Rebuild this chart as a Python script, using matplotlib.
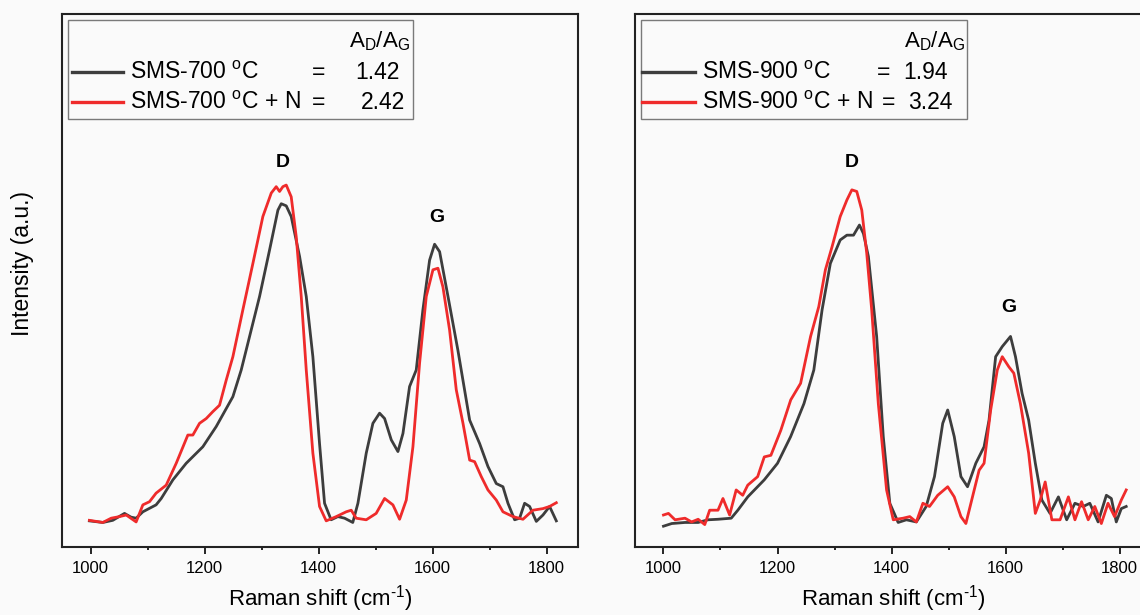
import matplotlib
matplotlib.use('Agg')
import matplotlib.pyplot as plt
from matplotlib.patches import Rectangle
from matplotlib.ticker import MultipleLocator

plt.rcParams['font.family'] = ['Liberation Sans', 'DejaVu Sans']
plt.rcParams['mathtext.default'] = 'regular'

# ---------------- data ----------------
# SMS-700 panel
wn_700 = [998, 1021.6, 1039, 1059.6, 1071, 1080, 1091.8, 1115, 1124, 1144.5, 1167.8, 1197, 1220.5, 1249.7,
          1264.3, 1279, 1296.5, 1314, 1328.7, 1334.5, 1343.3, 1352, 1366.7, 1378.4, 1390, 1401.7, 1410.5,
          1422, 1433.9, 1445.6, 1460, 1469, 1483.6, 1495.3, 1507, 1515.8, 1527.5, 1539.2, 1548, 1559.6,
          1571.3, 1583, 1594.7, 1603.5, 1612.3, 1627, 1644.4, 1665, 1682.5, 1697.1, 1711.7, 1723.4, 1732.2,
          1743.9, 1752.6, 1761.4, 1770.2, 1781.9, 1793.6, 1805.2, 1817]
int_700 = [4.9, 4.6, 5.0, 6.3, 5.6, 5.4, 6.6, 7.9, 9.1, 12.6, 15.7, 18.8, 22.6, 28.2,
           33.2, 39.5, 47.0, 55.7, 63.2, 64.4, 64.0, 62.0, 54.5, 47.0, 35.7, 19.4, 8.2,
           5.1, 5.7, 5.4, 4.6, 8.2, 17.6, 23.2, 25.1, 24.1, 20.1, 17.9, 21.3, 30.1,
           33.2, 44.5, 53.8, 56.8, 55.4, 47.0, 36.9, 23.8, 19.4, 15.1, 11.9, 11.3, 8.2,
           5.1, 5.4, 8.2, 7.6, 4.8, 6.0, 7.6, 4.9]

wn_700N = [998, 1021.6, 1036.2, 1050.9, 1062.6, 1080, 1091.8, 1103.5, 1115, 1132.7, 1150.3, 1170.7, 1179.5,
           1191.2, 1203, 1214.6, 1226.3, 1238, 1249.7, 1267.2, 1284.8, 1302.3, 1317, 1325.7, 1331.6, 1337.4,
           1343.3, 1352, 1360.8, 1369.6, 1378.4, 1390, 1401.7, 1413.4, 1431, 1448.5, 1457.3, 1466, 1483.6,
           1501, 1515.8, 1530.4, 1542.1, 1553.8, 1565.5, 1577.2, 1588.9, 1600.6, 1609.4, 1618.1, 1629.8,
           1641.5, 1653.3, 1665, 1673.7, 1685.4, 1697.1, 1711.7, 1723.4, 1741, 1758.5, 1776, 1793.6, 1805.2, 1817]
int_700N = [5.0, 4.6, 5.4, 5.7, 6.0, 4.7, 7.9, 8.5, 10.1, 11.6, 15.7, 21.0, 21.0,
            23.2, 24.1, 25.4, 26.6, 31.3, 35.7, 44.5, 53.2, 62.0, 66.4, 67.6, 66.7, 67.6,
            67.9, 65.7, 58.2, 47.0, 33.2, 17.6, 7.6, 4.9, 5.7, 6.6, 6.9, 5.4, 5.1,
            6.3, 9.1, 7.9, 5.2, 8.8, 18.8, 34.5, 47.0, 52.0, 52.3, 48.8, 40.7,
            29.5, 23.2, 16.3, 16.0, 13.2, 10.7, 8.8, 6.6, 5.7, 5.2, 6.9, 7.2, 7.6, 8.3]

# SMS-900 panel
wn_900 = [1000, 1014.5, 1037.7, 1060.8, 1078, 1095.6, 1118.8, 1130.4, 1147.8, 1176.8, 1200, 1223, 1246.4,
          1263.7, 1278.2, 1292.7, 1310, 1321.7, 1333.3, 1343.7, 1350.7, 1359.4, 1373.9, 1385.5, 1397, 1411.6,
          1426, 1443.5, 1460.8, 1475.3, 1489.8, 1498.5, 1510, 1521.7, 1533.3, 1547.8, 1562.3, 1571, 1582.6,
          1594.2, 1608.7, 1617.4, 1629, 1640.5, 1652.2, 1663.7, 1678, 1692.7, 1707.2, 1721.7, 1736.2, 1747.8,
          1762.3, 1776.8, 1785.5, 1794.2, 1803, 1811.6]
int_900 = [3.9, 4.4, 4.6, 4.6, 5.1, 5.2, 5.4, 6.9, 9.4, 12.6, 15.7, 20.7, 26.9,
           33.2, 44.5, 53.2, 57.6, 58.5, 58.5, 60.4, 58.8, 54.5, 39.5, 20.7, 8.2, 4.6,
           5.1, 4.7, 7.6, 13.2, 23.2, 25.7, 20.7, 13.2, 11.3, 15.7, 18.8, 23.8, 35.7,
           37.6, 39.5, 35.7, 28.8, 23.8, 15.7, 8.8, 6.3, 9.4, 5.1, 8.2, 7.6, 8.2,
           4.7, 9.7, 9.1, 4.7, 7.2, 7.6]

wn_900N = [1000, 1008.7, 1020.3, 1037.7, 1049.3, 1060.8, 1072.4, 1081, 1095.6, 1104.3, 1116, 1127.5, 1139,
           1147.8, 1165.2, 1176.8, 1188.4, 1205.8, 1223.2, 1240.5, 1258, 1272.4, 1284, 1295.6, 1310, 1321.7,
           1330.4, 1339, 1347.8, 1356.5, 1365.2, 1376.8, 1391.3, 1403, 1420.3, 1432, 1443.5, 1455, 1466.6,
           1481, 1498.5, 1510, 1521.7, 1530.4, 1542, 1553.6, 1562.3, 1573.9, 1585.5, 1594.2, 1605.8, 1614.5,
           1626, 1640.5, 1652.2, 1660.8, 1669.5, 1681.2, 1695.6, 1710.2, 1721.7, 1733.3, 1745, 1756.5, 1768,
           1779.7, 1791.2, 1803, 1811.6]
int_900N = [6.0, 6.3, 5.1, 5.4, 4.7, 5.2, 4.2, 6.9, 6.9, 9.1, 6.0, 10.7, 9.7,
            11.6, 13.2, 16.9, 17.2, 21.9, 27.6, 30.7, 39.5, 45.1, 52.0, 56.3, 62.0, 65.1,
            67.0, 66.7, 63.2, 55.1, 44.5, 26.9, 10.7, 5.1, 5.4, 5.7, 4.7, 8.2, 7.6,
            9.7, 11.3, 9.4, 5.7, 4.4, 9.4, 14.4, 15.7, 25.7, 33.2, 35.7, 33.8, 32.6,
            26.9, 17.6, 6.3, 8.8, 12.2, 5.1, 5.1, 9.4, 5.1, 8.5, 5.1, 7.6, 4.4,
            8.2, 5.7, 8.8, 10.7]

names_700 = ['SMS-700 $^{o}$C', 'SMS-700 $^{o}$C + N']
ratios_700 = ['1.42', '2.42']
names_900 = ['SMS-900 $^{o}$C', 'SMS-900 $^{o}$C + N']
ratios_900 = ['1.94', '3.24']

peak_D_700 = (1337, 72.2)
peak_G_700 = (1607, 61.9)
peak_D_900 = (1330, 72.2)
peak_G_900 = (1605, 45.0)

c_black = '#3d3d3d'
c_red = '#ef2b2b'
bg = '#fafafa'

fig = plt.figure(figsize=(11.4, 6.15), dpi=100, facecolor=bg)
ax1 = fig.add_axes([0.0544, 0.1106, 0.4526, 0.8667], facecolor=bg)
ax2 = fig.add_axes([0.557, 0.1106, 0.4526, 0.8667], facecolor=bg)


def panel(ax, x1, y1, x2, y2, names, ratios, dpk, gpk, box_w, line_x, txt_x, eq_x, val_x, val_ha):
    ax.plot(x1, y1, color=c_black, lw=2.0)
    ax.plot(x2, y2, color=c_red, lw=2.0)
    ax.set_xlim(950, 1855)
    ax.set_ylim(0, 100)
    ax.set_yticks([])
    ax.xaxis.set_major_locator(MultipleLocator(200))
    ax.xaxis.set_minor_locator(MultipleLocator(100))
    ax.tick_params(axis='x', which='major', direction='out', length=5, width=1.2, labelsize=12, pad=5)
    ax.tick_params(axis='x', which='minor', direction='out', length=2.5, width=1.2)
    for s in ax.spines.values():
        s.set_linewidth(1.5)
        s.set_color('#222222')
    ax.set_xlabel('Raman shift (cm$^{\u2010 1}$)', fontsize=16, labelpad=5.5)
    ax.text(dpk[0], dpk[1], 'D', fontsize=14, fontweight='bold', ha='center', va='center')
    ax.text(gpk[0], gpk[1], 'G', fontsize=14, fontweight='bold', ha='center', va='center')

    # legend table
    ax.add_patch(Rectangle((0.012, 0.803), box_w, 0.186, transform=ax.transAxes,
                           fill=False, edgecolor='#7a7a7a', lw=1.0))
    ax.text(0.012 + box_w - 0.005, 0.948, 'A$_D$/A$_G$', transform=ax.transAxes,
            fontsize=16, ha='right', va='center')
    rows_y = [0.891, 0.834]
    for yy, col, nm, ex, vx, rt in zip(rows_y, [c_black, c_red], names, eq_x, val_x, ratios):
        ax.plot(line_x, [yy, yy], color=col, lw=2.4, transform=ax.transAxes)
        ax.text(txt_x, yy, nm, transform=ax.transAxes, fontsize=16.5, ha='left', va='center')
        ax.text(ex, yy, '=', transform=ax.transAxes, fontsize=16.5, ha='center', va='center')
        ax.text(vx, yy, rt, transform=ax.transAxes, fontsize=16.5, ha=val_ha, va='center')


panel(ax1, wn_700, int_700, wn_700N, int_700N, names_700, ratios_700, peak_D_700, peak_G_700,
      0.668, [0.019, 0.118], 0.132, [0.498, 0.498], [0.655, 0.665], 'right')
panel(ax2, wn_900, int_900, wn_900N, int_900N, names_900, ratios_900, peak_D_900, peak_G_900,
      0.632, [0.0136, 0.116], 0.130, [0.4826, 0.492], [0.519, 0.529], 'left')

fig.text(22 / 1140, 1 - 264 / 615, 'Intensity (a.u.)', rotation=90, fontsize=16.5, ha='center', va='center')

fig.savefig('out.png', dpi=100, facecolor=bg)
